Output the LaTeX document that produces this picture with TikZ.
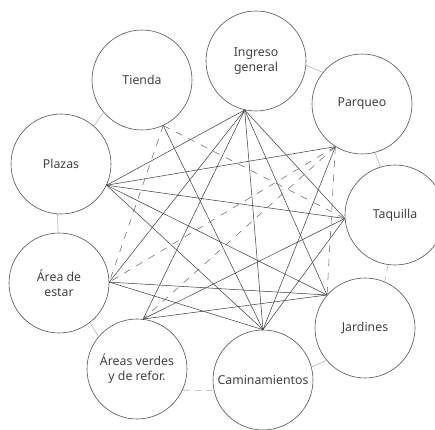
\documentclass[tikz,border=0pt]{standalone}
\usepackage{fontspec}
\setmainfont{Noto Sans}
\begin{document}
\begin{tikzpicture}[x=0.03cm, y=-0.03cm,
    zona/.style={circle, draw=black!70, line width=0.5pt, minimum size=3cm, inner sep=0pt,
      align=center, text=black!75, font=\fontsize{10.5}{13}\selectfont},
    rel/.style={draw=black!75, line width=0.45pt},
    relsec/.style={draw=black!60, line width=0.45pt, dash pattern=on 6pt off 6pt},
    vec/.style={draw=black!30, line width=0.5pt}]
      \useasboundingbox (0,0) rectangle (435,430);
      \node[zona] (ti) at (142,80) {Tienda};
      \node[zona] (in) at (256,61) {Ingreso\\general};
      \node[zona] (pa) at (362,104) {Parqueo};
      \node[zona] (ta) at (395,215) {Taquilla};
      \node[zona] (ja) at (365,328) {Jardines};
      \node[zona] (ca) at (263,380) {Caminamientos};
      \node[zona] (av) at (137,369) {Áreas verdes\\y de refor.};
      \node[zona] (ae) at (59,283) {Área de\\estar};
      \node[zona] (pl) at (61,164) {Plazas};
      \draw[vec] (ti.-140) -- (pl.49);
      \draw[vec] (pl.-94) -- (ae.91);
      \draw[vec] (ae.-52) -- (av.140);
      \draw[vec, dash pattern=on 6pt off 4pt] (av.-25) -- (ca.-168);
      \draw[vec] (ca.15) -- (ja.-140);
      \draw[vec, dash pattern=on 5pt off 4pt] (ja.67) -- (ta.-98);
      \draw[vec] (pa.-75) -- (ta.107);
      \draw[vec] (in.-5) -- (pa.141);
      \draw[rel] (pl.-25) -- (in.-103);
      \draw[rel] (pl.-25) -- (pa.-122);
      \draw[rel] (pl.-25) -- (ta.-176);
      \draw[rel] (pl.-25) -- (ja.139);
      \draw[rel] (pl.-25) -- (ca.90);
      \draw[rel] (ti.-65) -- (ca.90);
      \draw[rel] (in.-103) -- (ae.1);
      \draw[rel] (in.-103) -- (av.83);
      \draw[rel] (in.-103) -- (ca.90);
      \draw[rel] (in.-103) -- (ja.139);
      \draw[rel] (in.-103) -- (ta.-176);
      \draw[rel] (pa.-122) -- (ca.90);
      \draw[rel] (ta.-176) -- (av.83);
      \draw[rel] (ta.-176) -- (ca.90);
      \draw[rel] (ja.139) -- (ae.1);
      \draw[rel] (ja.139) -- (av.83);
      \draw[rel] (ca.90) -- (ae.1);
      \draw[relsec] (ti.-65) -- (ta.-176);
      \draw[relsec] (ti.-65) -- (ae.1);
      \draw[relsec] (pa.-122) -- (ae.1);
      \draw[relsec] (pa.-122) -- (av.83);
      \draw[relsec] (pa.-122) -- (ja.139);
    \end{tikzpicture}
\end{document}
